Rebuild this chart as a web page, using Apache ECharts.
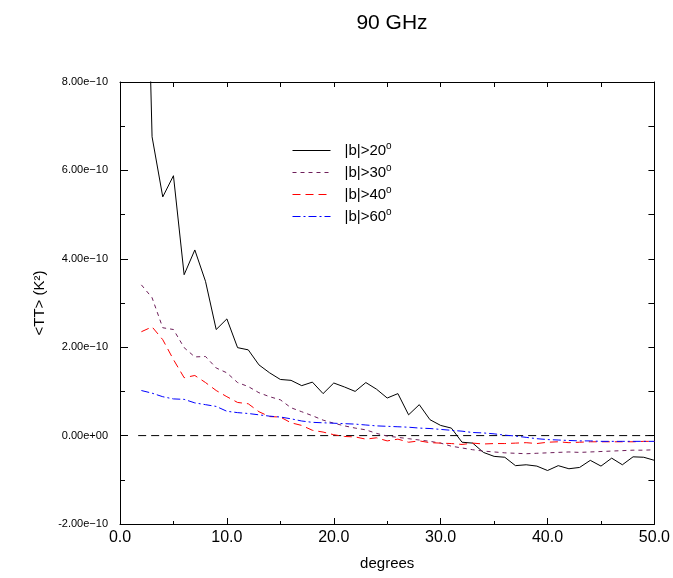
<!DOCTYPE html>
<html><head><meta charset="utf-8">
<script src="https://cdn.jsdelivr.net/npm/echarts@6/dist/echarts.min.js"></script>
<style>html,body{margin:0;padding:0;background:#fff}#c{width:673px;height:578px}</style>
</head><body><div id="c"></div>
<script>
// values in units of 1e-10 K^2
const SCALE = 1e-10;
const degrees = [2,3,4,5,6,7,8,9,10,11,12,13,14,15,16,17,18,19,20,21,22,23,24,25,26,27,28,29,30,31,32,33,34,35,36,37,38,39,40,41,42,43,44,45,46,47,48,49,50];
const b20 = [16.5,6.76,5.4,5.88,3.64,4.2,3.49,2.4,2.64,1.99,1.94,1.6,1.42,1.27,1.25,1.13,1.21,0.95,1.19,1.1,1.0,1.2,1.05,0.85,0.95,0.47,0.7,0.36,0.23,0.17,-0.15,-0.17,-0.38,-0.47,-0.49,-0.68,-0.66,-0.69,-0.79,-0.68,-0.75,-0.72,-0.56,-0.69,-0.51,-0.66,-0.48,-0.49,-0.56];
const b30 = [3.41,3.12,2.44,2.4,1.99,1.78,1.79,1.53,1.42,1.2,1.11,0.97,0.88,0.81,0.63,0.54,0.45,0.35,0.28,0.22,0.17,0.13,0.05,-0.01,-0.04,-0.07,-0.1,-0.13,-0.17,-0.24,-0.28,-0.32,-0.35,-0.37,-0.39,-0.4,-0.41,-0.4,-0.39,-0.38,-0.37,-0.38,-0.37,-0.36,-0.35,-0.34,-0.33,-0.33,-0.32];
const b40 = [2.35,2.46,2.17,1.72,1.31,1.36,1.2,1.02,0.88,0.75,0.72,0.54,0.43,0.42,0.29,0.23,0.12,0.08,0.02,-0.02,-0.03,-0.08,-0.05,-0.12,-0.08,-0.15,-0.12,-0.16,-0.17,-0.18,-0.2,-0.17,-0.19,-0.18,-0.18,-0.17,-0.16,-0.18,-0.15,-0.14,-0.16,-0.15,-0.14,-0.14,-0.14,-0.14,-0.14,-0.13,-0.13];
const b60 = [1.02,0.96,0.88,0.83,0.82,0.74,0.7,0.66,0.55,0.52,0.5,0.47,0.44,0.42,0.38,0.33,0.3,0.29,0.28,0.27,0.26,0.24,0.22,0.21,0.2,0.19,0.17,0.16,0.14,0.12,0.1,0.07,0.06,0.04,0.01,-0.01,-0.04,-0.07,-0.09,-0.1,-0.11,-0.12,-0.12,-0.13,-0.13,-0.13,-0.13,-0.13,-0.13];
const zeroLine = [0,0];
const zeroX = [1.7,50];
const names = ['|b|>20','|b|>30','|b|>40','|b|>60'];

const FONT = 'Liberation Sans, Arial, Helvetica, sans-serif';
function pairs(xs, ys){ return xs.map((x,i)=>[x, ys[i]*SCALE]); }
function fmt(v){
  if (Math.abs(v) < 1e-15) return '0.00e+00';
  const s = v.toExponential(2);
  const parts = s.split('e');
  const sign = parts[1][0] === '-' ? '\u2212' : '+';
  const d = parts[1].slice(1).padStart(2,'0');
  return parts[0] + 'e' + sign + d;
}
const chart = echarts.init(document.getElementById('c'), null, {renderer:'canvas'});
const axisLine = {show:true, onZero:false, lineStyle:{color:'#000', width:1}};
chart.setOption({
  animation:false,
  backgroundColor:'#fff',
  title:{text:'90 GHz', left:387, top:8, textAlign:'center',
    textStyle:{fontFamily:FONT, fontSize:21, fontWeight:'normal', color:'#000'}},
  grid:{left:120, right:18, top:82, bottom:54, containLabel:false},
  legend:{
    show:true, padding:0,
    orient:'vertical', left:292, top:141, itemWidth:38, itemHeight:14, itemGap:5,
    itemStyle:{opacity:0},
    lineStyle:{width:1},
    data:names,
    formatter: function(n){ return '{t|' + n + '}{s|o}'; },
    textStyle:{fontFamily:FONT, fontSize:15, color:'#000',
      rich:{ t:{fontFamily:FONT, fontSize:15, color:'#000', padding:[0,0,0,9]},
             s:{fontFamily:FONT, fontSize:10, color:'#000', verticalAlign:'top', padding:[0,0,9,0]} }}
  },
  xAxis:[{
    type:'value', min:0, max:50, interval:10, position:'bottom',
    name:'degrees', nameLocation:'middle', nameGap:32,
    nameTextStyle:{fontFamily:FONT, fontSize:15, color:'#000'},
    axisLine:axisLine,
    axisTick:{show:true, inside:true, length:6, lineStyle:{color:'#000'}},
    minorTick:{show:true, splitNumber:2, length:3, lineStyle:{color:'#000'}},
    axisLabel:{fontFamily:FONT, fontSize:16, color:'#000', margin:6, formatter:v=>v.toFixed(1)},
    splitLine:{show:false}
  },{
    type:'value', min:0, max:50, interval:5, position:'top',
    axisLine:axisLine,
    axisTick:{show:true, inside:true, length:5, lineStyle:{color:'#000'}},
    axisLabel:{show:false}, splitLine:{show:false}
  }],
  yAxis:[{
    type:'value', min:-2e-10, max:8e-10, interval:2e-10, position:'left',
    name:'<TT> (K\u00B2)', nameLocation:'middle', nameGap:72, nameRotate:90,
    nameTextStyle:{fontFamily:FONT, fontSize:15, color:'#000'},
    axisLine:axisLine,
    axisTick:{show:true, inside:true, length:8, lineStyle:{color:'#000'}},
    minorTick:{show:true, splitNumber:2, length:5, lineStyle:{color:'#000'}},
    axisLabel:{fontFamily:FONT, fontSize:11, color:'#000', margin:12, formatter:fmt},
    splitLine:{show:false}
  },{
    type:'value', min:-2e-10, max:8e-10, interval:1e-10, position:'right',
    axisLine:axisLine,
    axisTick:{show:true, inside:true, length:6, lineStyle:{color:'#000'}},
    axisLabel:{show:false}, splitLine:{show:false}
  }],
  series:[
    {name:names[0], type:'line', xAxisIndex:0, yAxisIndex:0, data:pairs(degrees,b20), symbol:'none', clip:true,
     lineStyle:{color:'#000', width:1, type:'solid'}, itemStyle:{color:'#000'}},
    {name:names[1], type:'line', xAxisIndex:0, yAxisIndex:0, data:pairs(degrees,b30), symbol:'none', clip:true,
     lineStyle:{color:'#6e1f5a', width:1, type:[4,4]}, itemStyle:{color:'#6e1f5a'}},
    {name:names[2], type:'line', xAxisIndex:0, yAxisIndex:0, data:pairs(degrees,b40), symbol:'none', clip:true,
     lineStyle:{color:'#ff0000', width:1, type:[8,5]}, itemStyle:{color:'#ff0000'}},
    {name:names[3], type:'line', xAxisIndex:0, yAxisIndex:0, data:pairs(degrees,b60), symbol:'none', clip:true,
     lineStyle:{color:'#0000ff', width:1, type:[8,3,2,3]}, itemStyle:{color:'#0000ff'}},
    {name:'zero', type:'line', xAxisIndex:0, yAxisIndex:0, data:pairs(zeroX,zeroLine), symbol:'none', clip:true,
     lineStyle:{color:'#000', width:1, type:[8,5]}, z:1}
  ]
});
</script></body></html>
